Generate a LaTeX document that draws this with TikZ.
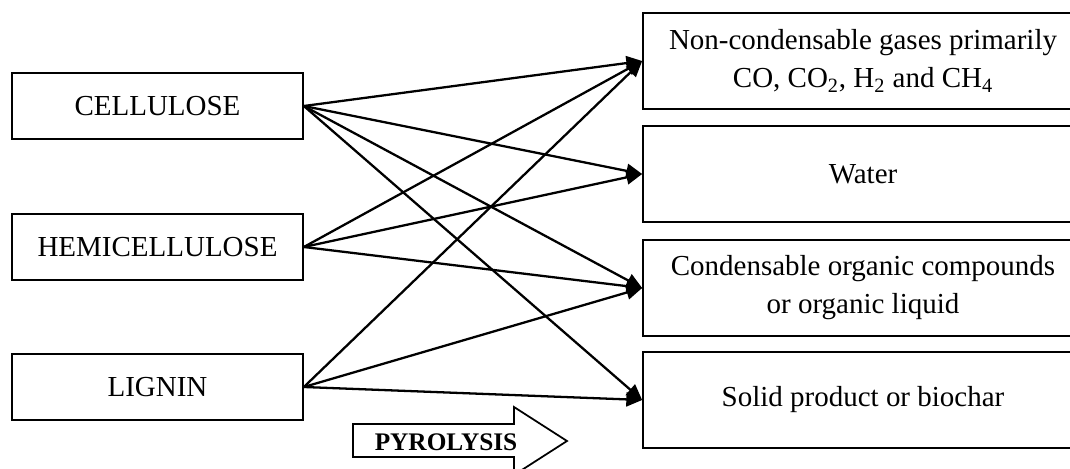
\documentclass[tikz,border=0pt]{standalone}
\usepackage{fontspec}
\setmainfont{Liberation Serif}
\usetikzlibrary{arrows.meta}
\tikzset{
  srcbox/.style={draw, line width=1pt, minimum width=5.82cm, minimum height=1.32cm, inner sep=0pt,
    font=\fontsize{16.5}{21.6}\selectfont},
  prodbox/.style={draw, line width=1pt, minimum width=8.8cm, minimum height=1.92cm, inner sep=0pt,
    align=center, font=\fontsize{16.5}{21.6}\selectfont},
  flow/.style={line width=1.3pt, -{Triangle[length=9pt,width=8pt]}},
  pyro/.style={draw, line width=1pt, fill=white},
}
\begin{document}
\begin{tikzpicture}[x=0.02cm, y=-0.02cm]
\useasboundingbox (0,0) rectangle (1070,469);
% source boxes
\node[srcbox] (cel) at (157.5,106) {CELLULOSE};
\node[srcbox] (hem) at (157.5,247) {HEMICELLULOSE};
\node[srcbox] (lig) at (157.5,387) {LIGNIN};
% product boxes
\node[prodbox] (gas) at (863,61) {Non-condensable gases primarily\\CO, CO\textsubscript{2}, H\textsubscript{2} and CH\textsubscript{4}};
\node[prodbox] (wat) at (863,174) {Water};
\node[prodbox] (liq) at (863,288) {Condensable organic compounds\\or organic liquid};
\node[prodbox] (sol) at (863,400) {Solid product or biochar};
% connectors
\draw[flow] (cel.east) -- (gas.west);
\draw[flow] (cel.east) -- (wat.west);
\draw[flow] (cel.east) -- (liq.west);
\draw[flow] (cel.east) -- (sol.west);
\draw[flow] (hem.east) -- (gas.west);
\draw[flow] (hem.east) -- (wat.west);
\draw[flow] (hem.east) -- (liq.west);
\draw[flow] (lig.east) -- (gas.west);
\draw[flow] (lig.east) -- (liq.west);
\draw[flow] (lig.east) -- (sol.west);
% pyrolysis arrow
\draw[pyro] (353,424) -- (514,424) -- (514,407) -- (567,441) -- (514,475) -- (514,457) -- (353,457) -- cycle;
\node[font=\bfseries\fontsize{14.4}{16}\selectfont, inner sep=0pt] (pyr) at (446,442) {PYROLYSIS};
\end{tikzpicture}
\end{document}
